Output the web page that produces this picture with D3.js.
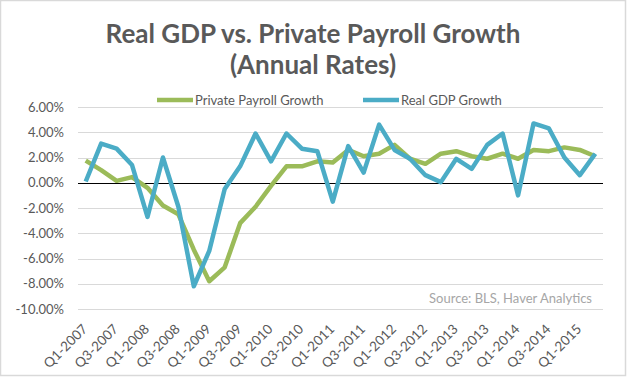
<!DOCTYPE html>
<html>
<head>
<meta charset="utf-8">
<script src="https://cdn.jsdelivr.net/npm/d3@7"></script>
<style>
  body { margin: 0; background: #fff; }
  text { font-family: Lato, "Open Sans", sans-serif; }
</style>
</head>
<body>
<div id="container"></div>
<script>
/* DATA */
const quarters = [
  "Q1-2007", "Q2-2007", "Q3-2007", "Q4-2007",
  "Q1-2008", "Q2-2008", "Q3-2008", "Q4-2008",
  "Q1-2009", "Q2-2009", "Q3-2009", "Q4-2009",
  "Q1-2010", "Q2-2010", "Q3-2010", "Q4-2010",
  "Q1-2011", "Q2-2011", "Q3-2011", "Q4-2011",
  "Q1-2012", "Q2-2012", "Q3-2012", "Q4-2012",
  "Q1-2013", "Q2-2013", "Q3-2013", "Q4-2013",
  "Q1-2014", "Q2-2014", "Q3-2014", "Q4-2014",
  "Q1-2015", "Q2-2015"
];
// annual rates, %
const payrollGrowth = [
  1.75, 1.0, 0.15, 0.45,
  -0.4, -1.8, -2.5, -5.3,
  -7.8, -6.7, -3.2, -1.9,
  -0.25, 1.3, 1.3, 1.7,
  1.6, 2.6, 2.1, 2.3,
  3.0, 1.9, 1.5, 2.3,
  2.5, 2.1, 1.9, 2.3,
  1.9, 2.6, 2.5, 2.8,
  2.6, 2.1
];
const gdpGrowth = [
  0.1, 3.1, 2.7, 1.4,
  -2.7, 2.0, -1.9, -8.2,
  -5.4, -0.5, 1.3, 3.9,
  1.7, 3.9, 2.7, 2.5,
  -1.5, 2.9, 0.8, 4.6,
  2.6, 1.9, 0.6, 0.05,
  1.9, 1.1, 3.0, 3.9,
  -1.0, 4.7, 4.3, 2.0,
  0.6, 2.3
];
const yTicks = [6, 4, 2, 0, -2, -4, -6, -8, -10];
const xTickLabels = quarters.filter((q, i) => i % 2 === 0);

/* CONSTANTS */
const width = 627, height = 377;
const plot = { left: 78, right: 603, top: 107, bottom: 309 };
const green = "#9bbb59", blue = "#4bacc6", textColor = "#595959";

const svg = d3.select("#container")
  .append("svg")
  .attr("width", width)
  .attr("height", height);

// chart border
svg.append("rect")
  .attr("x", 0.5).attr("y", 0.5)
  .attr("width", width - 2).attr("height", height - 2)
  .attr("fill", "#fff")
  .attr("stroke", "#d9d9d9")
  .attr("stroke-width", 1.5);

// + SCALES
const xScale = d3.scalePoint()
  .domain(quarters)
  .range([plot.left, plot.right])
  .padding(0.5);

const yScale = d3.scaleLinear()
  .domain([-10, 6])
  .range([plot.bottom, plot.top]);

// + TITLE
const title = svg.append("text")
  .attr("text-anchor", "middle")
  .attr("fill", textColor)
  .attr("font-size", 26)
  .attr("font-weight", "bold");
title.append("tspan").attr("x", 313).attr("y", 43).text("Real GDP vs. Private Payroll Growth");
title.append("tspan").attr("x", 313).attr("y", 74).text("(Annual Rates)");

// + GRIDLINES
svg.append("g")
  .selectAll("line")
  .data(yTicks)
  .join("line")
    .attr("x1", plot.left)
    .attr("x2", plot.right)
    .attr("y1", d => Math.round(yScale(d)) + 0.5)
    .attr("y2", d => Math.round(yScale(d)) + 0.5)
    .attr("stroke", d => d === 0 ? "#000" : "#d9d9d9")
    .attr("stroke-width", 1);

// + Y AXIS
const yAxis = d3.axisLeft(yScale)
  .tickValues(yTicks)
  .tickFormat(d => d.toFixed(2) + "%")
  .tickSize(0)
  .tickPadding(14);

svg.append("g")
  .attr("transform", `translate(${plot.left}, 0)`)
  .call(yAxis)
  .call(g => g.select(".domain").remove())
  .call(g => g.selectAll("text")
    .attr("fill", textColor)
    .attr("font-size", 13)
    .style("font-family", "Lato, 'Open Sans', sans-serif"));

// + X AXIS
const xAxis = d3.axisBottom(xScale)
  .tickValues(xTickLabels)
  .tickSize(0)
  .tickPadding(0);

svg.append("g")
  .attr("transform", `translate(0, ${plot.bottom})`)
  .call(xAxis)
  .call(g => g.select(".domain").remove())
  .call(g => g.selectAll("text")
    .attr("fill", textColor)
    .attr("font-size", 13.5)
    .style("font-family", "Lato, 'Open Sans', sans-serif")
    .attr("text-anchor", "end")
    .attr("dy", null)
    .attr("transform", "translate(2, 21) rotate(-45)"));

// + SOURCE
svg.append("text")
  .attr("x", 592)
  .attr("y", 303)
  .attr("text-anchor", "end")
  .attr("fill", "#a6a6a6")
  .attr("font-size", 13)
  .text("Source: BLS, Haver Analytics");

// + LINES
const series = [
  { name: "Private Payroll Growth", values: payrollGrowth, color: green },
  { name: "Real GDP Growth", values: gdpGrowth, color: blue }
];

const lineGenerator = d3.line()
  .x((d, i) => xScale(quarters[i]))
  .y(d => yScale(d));

svg.append("g")
  .selectAll("path")
  .data(series)
  .join("path")
    .attr("fill", "none")
    .attr("stroke", d => d.color)
    .attr("stroke-width", 4.5)
    .attr("stroke-linejoin", "round")
    .attr("d", d => lineGenerator(d.values));

// + LEGEND
const legendX = [157, 363];
const legend = svg.append("g")
  .selectAll("g")
  .data(series)
  .join("g")
    .attr("transform", (d, i) => `translate(${legendX[i]}, 100)`);

legend.append("line")
  .attr("x1", 0).attr("x2", 36)
  .attr("stroke", d => d.color)
  .attr("stroke-width", 4.5);

legend.append("text")
  .attr("x", 38)
  .attr("dy", "0.35em")
  .attr("fill", textColor)
  .attr("font-size", 13)
  .text(d => d.name);
</script>
</body>
</html>
